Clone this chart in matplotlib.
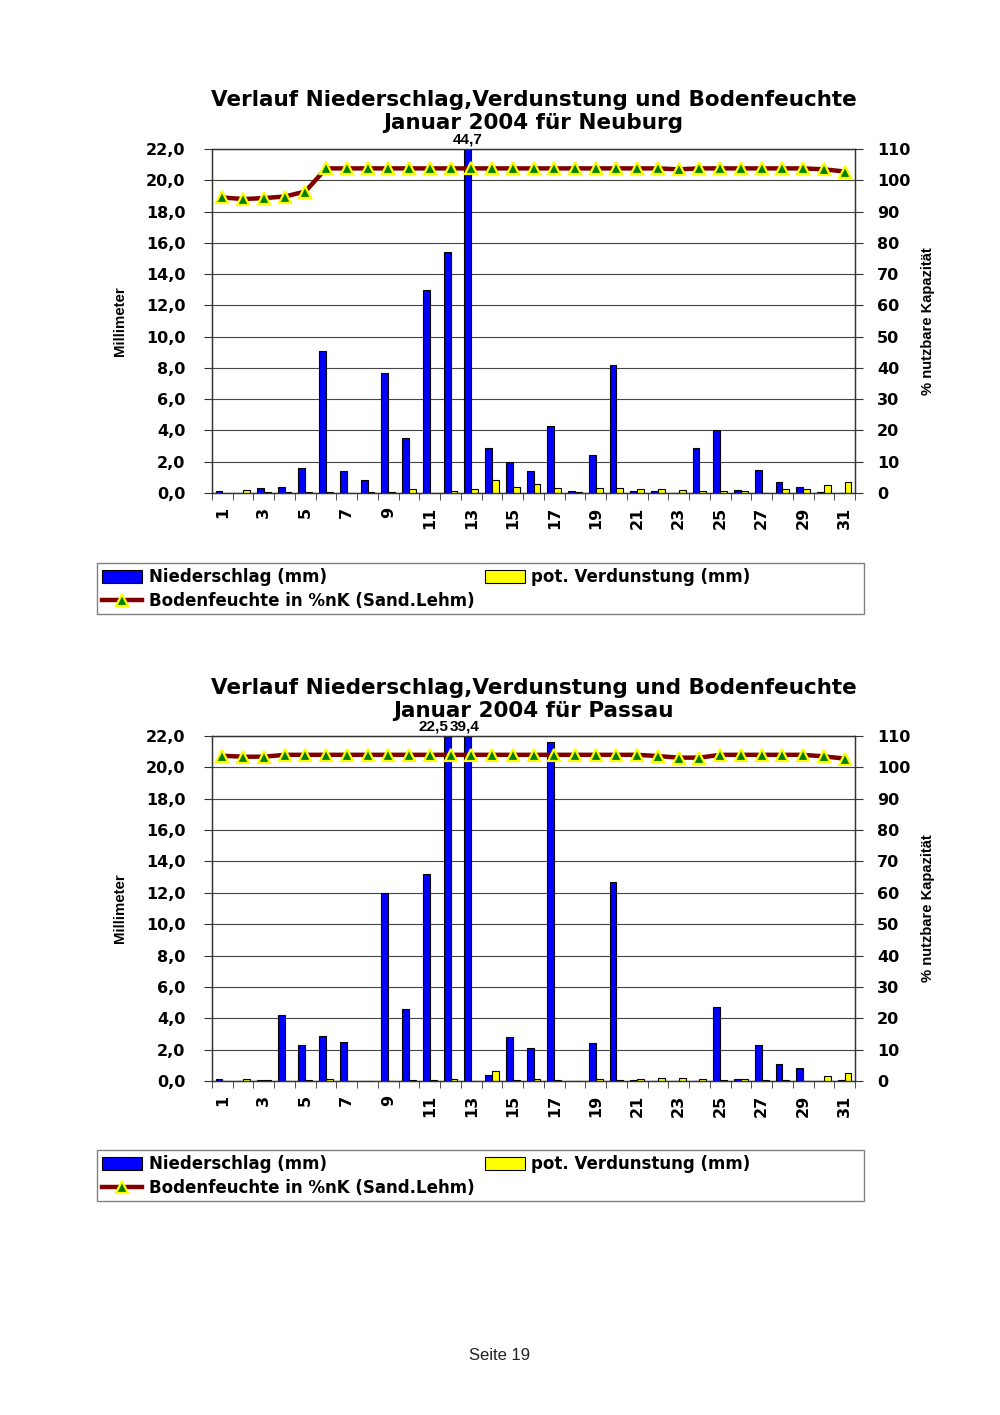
import numpy as np
import matplotlib
matplotlib.use('Agg')
import matplotlib.pyplot as plt
from matplotlib.patches import Patch, Rectangle
from matplotlib.lines import Line2D

# ─────────────────────────────────────────────
# Daten (Januar 2004)
# ─────────────────────────────────────────────
days = list(range(1, 32))

neuburg_nieder = [0.1, 0.0, 0.3, 0.4, 1.6, 9.1, 1.4, 0.8, 7.7, 3.5, 13.0, 15.4, 44.7, 2.9, 2.0, 1.4,
                  4.3, 0.1, 2.4, 8.2, 0.1, 0.1, 0.0, 2.9, 4.0, 0.2, 1.5, 0.7, 0.4, 0.05, 0.0]
neuburg_verd = [0.0, 0.2, 0.05, 0.05, 0.05, 0.05, 0.03, 0.05, 0.05, 0.25, 0.03, 0.15, 0.25, 0.8, 0.4, 0.6,
                0.3, 0.05, 0.35, 0.3, 0.25, 0.25, 0.2, 0.15, 0.15, 0.15, 0.03, 0.25, 0.25, 0.5, 0.7]
neuburg_boden = [94.5, 94.0, 94.3, 94.8, 96.4, 103.8, 103.8, 103.8, 103.8, 103.8, 103.8, 103.8, 103.8,
                 103.8, 103.8, 103.8, 103.8, 103.8, 103.8, 103.8, 103.8, 103.8, 103.5, 103.8, 103.8,
                 103.8, 103.8, 103.8, 103.8, 103.5, 102.8]

passau_nieder = [0.15, 0.0, 0.05, 4.2, 2.3, 2.9, 2.5, 0.0, 12.0, 4.6, 13.2, 22.5, 39.4, 0.4, 2.8, 2.1,
                 21.6, 0.0, 2.4, 12.7, 0.05, 0.0, 0.0, 0.0, 4.7, 0.15, 2.3, 1.1, 0.8, 0.0, 0.05]
passau_verd = [0.0, 0.15, 0.05, 0.03, 0.05, 0.15, 0.03, 0.03, 0.03, 0.05, 0.05, 0.15, 0.03, 0.65, 0.05,
               0.15, 0.05, 0.0, 0.1, 0.05, 0.1, 0.2, 0.2, 0.15, 0.05, 0.1, 0.05, 0.05, 0.02, 0.35, 0.5]
passau_boden = [103.7, 103.4, 103.4, 104.0, 104.0, 104.0, 104.0, 104.0, 104.0, 104.0, 104.0, 104.0,
                104.0, 104.0, 104.0, 104.0, 104.0, 104.0, 104.0, 104.0, 104.0, 103.6, 103.1, 103.1,
                104.0, 104.0, 104.0, 104.0, 104.0, 103.5, 102.8]

title1 = 'Verlauf Niederschlag,Verdunstung und Bodenfeuchte'
stations = ['Neuburg', 'Passau']

# ─────────────────────────────────────────────
# Layout
# ─────────────────────────────────────────────
W, H = 1000, 1415
BLUE = '#0000ff'
YELLOW = '#ffff00'
LINE = '#800000'
GREEN = '#008000'
NARROW = ['Liberation Sans Narrow', 'Liberation Sans', 'DejaVu Sans']

fig = plt.figure(figsize=(W / 100, H / 100), dpi=100)
fig.patch.set_facecolor('white')


def fy(px):
    return 1 - px / H


def draw_chart(top, bottom, title_y, legend_top, station, nieder, verd, boden, label_shift):
    ax = fig.add_axes([212 / W, fy(bottom), (855 - 212) / W, (bottom - top) / H])
    x = np.array(days)
    ax.bar(x - 0.165, nieder, width=0.33, color=BLUE, edgecolor='black', linewidth=0.8, zorder=3)
    ax.bar(x + 0.165, verd, width=0.33, color=YELLOW, edgecolor='black', linewidth=0.8, zorder=3)
    ax.set_xlim(0.5, 31.5)
    ax.set_ylim(0, 22)
    yt = np.arange(0, 22.1, 2)
    ax.set_yticks(yt)
    ax.set_yticklabels([f'{v:.1f}'.replace('.', ',') for v in yt], fontsize=11.5, fontweight='bold')
    ax.tick_params(axis='y', length=6, pad=13, color='#333333')
    ax.grid(axis='y', color='#444444', linewidth=0.8, zorder=0)
    ax.set_xticks(days[::2])
    ax.set_xticklabels([str(d) for d in days[::2]], rotation=90, fontsize=11.5, fontweight='bold')
    ax.tick_params(axis='x', which='major', length=0, pad=10)
    ax.set_xticks(np.arange(0.5, 31.6, 1), minor=True)
    ax.tick_params(axis='x', which='minor', length=5, color='#333333')
    for s in ax.spines.values():
        s.set_color('#333333')
        s.set_linewidth(0.9)

    # Werte oberhalb der Skala
    for d, v in zip(days, nieder):
        if v > 22:
            ax.annotate(f'{v:.1f}'.replace('.', ','), xy=(d - 0.165, 22), xytext=(label_shift.get(d, 0), 1.5),
                        textcoords='offset points', ha='center', va='bottom',
                        fontsize=11, fontweight='bold', family='Liberation Sans',
                        annotation_clip=False)

    ax2 = ax.twinx()
    ax2.plot(x, boden, color=LINE, linewidth=3.2, marker='^', markersize=9,
             markerfacecolor=GREEN, markeredgecolor=YELLOW, markeredgewidth=1.6, zorder=5)
    ax2.set_ylim(0, 110)
    rt = np.arange(0, 111, 10)
    ax2.set_yticks(rt)
    ax2.set_yticklabels([str(v) for v in rt], fontsize=11.5, fontweight='bold')
    ax2.tick_params(axis='y', length=6, pad=10, color='#333333')
    for s in ax2.spines.values():
        s.set_color('#333333')
        s.set_linewidth(0.9)

    # Titel und Achsentitel
    cx = (212 + 855) / 2 / W
    fig.text(cx, fy(title_y), title1, ha='center', va='center', fontsize=15.5, fontweight='bold')
    fig.text(cx, fy(title_y + 23), f'Januar 2004 für {station}', ha='center', va='center',
             fontsize=15.5, fontweight='bold')
    mid = (top + bottom) / 2
    fig.text(120 / W, fy(mid), 'Millimeter', rotation=90, ha='center', va='center',
             fontsize=10.8, fontweight='bold', family=NARROW)
    fig.text(928 / W, fy(mid), '% nutzbare Kapazität', rotation=90, ha='center', va='center',
             fontsize=10.6, fontweight='bold', family=NARROW)

    # Legende
    h_n = Patch(facecolor=BLUE, edgecolor='black', linewidth=0.8)
    h_v = Patch(facecolor=YELLOW, edgecolor='black', linewidth=0.8)
    h_b = Line2D([], [], color=LINE, linewidth=3.2, marker='^', markersize=9,
                 markerfacecolor=GREEN, markeredgecolor=YELLOW, markeredgewidth=1.6)
    fig.legend([h_n, h_b, h_v],
               ['Niederschlag (mm)', 'Bodenfeuchte in %nK (Sand.Lehm)', 'pot. Verdunstung (mm)'],
               ncol=2, loc='upper left', bbox_to_anchor=(99 / W, fy(legend_top + 2)),
               frameon=False, prop={'weight': 'bold', 'size': 12},
               handlelength=2.4, handleheight=0.8, handletextpad=0.4,
               columnspacing=0.6, labelspacing=0.35, borderpad=0.2, borderaxespad=0)
    fig.patches.append(Rectangle((97 / W, fy(legend_top + 51)), 767 / W, 51 / H,
                                 transform=fig.transFigure, facecolor='none',
                                 edgecolor='#808080', linewidth=1))
    return ax


draw_chart(149, 493, 100, 563, stations[0], neuburg_nieder, neuburg_verd, neuburg_boden, {})
draw_chart(736, 1081, 688, 1150, stations[1], passau_nieder, passau_verd, passau_boden, {12: -10, 13: -2})

fig.text(0.5, fy(1355), 'Seite 19', ha='center', va='center', fontsize=12, family='Liberation Sans',
         color='#222222')

plt.savefig('out.png', dpi=100)
plt.close()
